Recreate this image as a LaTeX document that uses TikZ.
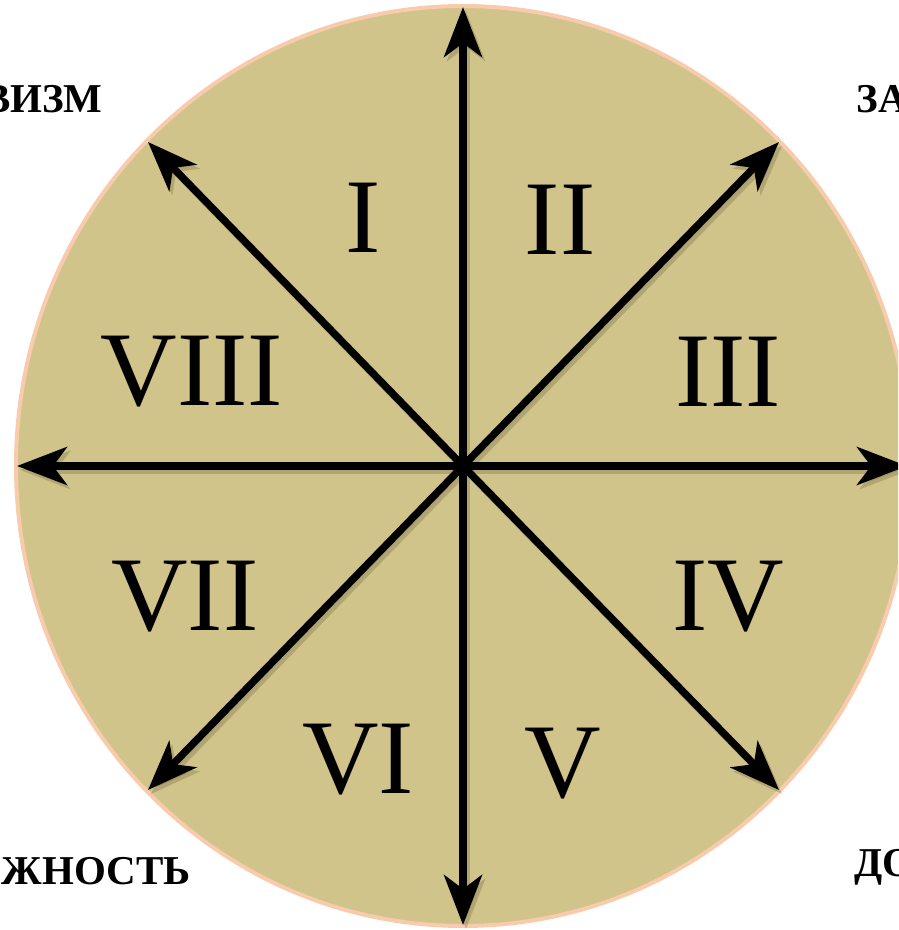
\documentclass[tikz,border=0pt]{standalone}
\usepackage{fontspec}
\setmainfont{Liberation Serif}
\usetikzlibrary{arrows.meta}
\definecolor{dialfill}{RGB}{208,196,139}
\definecolor{dialrim}{RGB}{248,203,173}
\definecolor{dialshade}{RGB}{120,110,70}
\tikzset{
  axis/.style={line width=3.7pt,-{Stealth[length=25pt,width=19pt,inset=7pt]}},
  numeral/.style={font=\fontsize{53}{53}\selectfont,inner sep=0pt},
  pole/.style={font=\fontsize{20.5}{20.5}\selectfont\bfseries,inner sep=0pt},
}
\begin{document}
\begin{tikzpicture}[x=0.5pt,y=-0.5pt]
\useasboundingbox (0,0) rectangle (898,930);
\clip (0,0) rectangle (898,930);
% dial
\coordinate (o) at (463,466);
\draw[dialrim,line width=2pt,fill=dialfill] (o) ellipse [x radius=447,y radius=460];
% arrow ends
\coordinate (n)  at (463,7);
\coordinate (s)  at (463,925);
\coordinate (w)  at (17,466);
\coordinate (e)  at (907,466);
\coordinate (nw) at (148,142);
\coordinate (ne) at (779,142);
\coordinate (sw) at (148,790);
\coordinate (se) at (779,790);
% soft shadow, then arrows
\foreach \e in {n,ne,e,se,s,sw,w,nw}
  \draw[axis,draw=dialshade,fill=dialshade,opacity=0.35,transform canvas={shift={(1.5pt,-2pt)}}] (o) -- (\e);
\foreach \e in {n,ne,e,se,s,sw,w,nw}
  \draw[axis] (o) -- (\e);
% sectors
\node[numeral] (r1) at (363,218) {I};
\node[numeral] (r2) at (560,220) {II};
\node[numeral] (r3) at (728,372) {III};
\node[numeral] (r4) at (728,597) {IV};
\node[numeral] (r5) at (563,764) {V};
\node[numeral] (r6) at (358,760) {VI};
\node[numeral] (r7) at (185,597) {VII};
\node[numeral] (r8) at (192,372) {VIII};
% poles
\node[pole,anchor=base east] (tl) at (103,113) {ВИЗМ};
\node[pole,anchor=base west] (tr) at (856,113) {ЗА};
\node[pole,anchor=base east] (bl) at (191,884) {ЖНОСТЬ};
\node[pole,anchor=base west] (br) at (854,876) {ДО};
\end{tikzpicture}
\end{document}
